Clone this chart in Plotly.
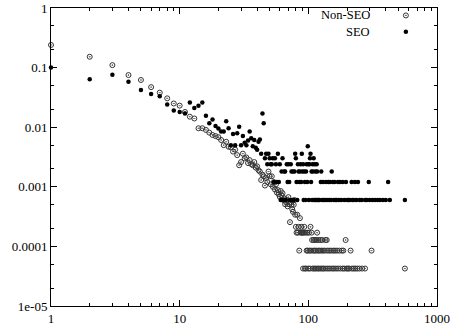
import plotly.graph_objects as go

# ---------------- data ----------------
nonseo_head_x = list(range(1, 80))
nonseo_head_y = [
    0.24, 0.152, 0.11, 0.075, 0.062, 0.047, 0.038, 0.0305, 0.025, 0.023,
    0.018, 0.015, 0.014, 0.0096, 0.0096, 0.009, 0.0081, 0.0074, 0.0071, 0.0068,
    0.0061, 0.0050, 0.0057, 0.0047, 0.0046, 0.0039, 0.0042, 0.0034, 0.0023, 0.0026,
    0.0036, 0.0030, 0.0031, 0.0025, 0.0028, 0.0024, 0.0023, 0.0026, 0.0021, 0.0022,
    0.0019, 0.0018, 0.0013, 0.0016, 0.0015, 0.00105, 0.0014, 0.0012, 0.0018, 0.0015,
    0.0011, 0.0015, 0.0010, 0.0012, 0.0009, 0.0011, 0.0008, 0.00088, 0.00075, 0.00068,
    0.00085, 0.00072, 0.00078, 0.0006, 0.00064, 0.00051, 0.00056, 0.0006, 0.00047, 0.00067,
    0.00051, 0.000255, 0.00055, 0.0005, 0.00042, 0.00038, 0.0005, 0.0006, 0.00034,
]
nonseo_tail_x = [
    80, 81, 82, 83, 84, 85, 86, 87, 88, 89, 90, 91, 92, 93, 94, 95, 96, 97, 98, 99,
    100, 101, 102, 103, 104, 105, 106, 107, 108, 109, 110, 111, 112, 113, 114, 115,
    116, 117, 118, 119, 120, 121, 122, 124, 125, 126, 128, 129, 130, 132, 134, 136,
    137, 139, 140, 142, 145, 147, 150, 153, 156, 158, 161, 164, 167, 170, 174, 177,
    182, 185, 187, 190, 195, 198, 203, 208, 213, 218, 225, 232, 240, 250, 262, 276,
    310, 563,
]
nonseo_tail_y = [
    2.13e-4, 1.7e-4, 3.4e-4, 1.7e-4, 2.13e-4, 8.5e-5, 2.98e-4, 1.7e-4, 2.13e-4, 1.7e-4,
    1.7e-4, 4.25e-5, 1.7e-4, 2.13e-4, 4.25e-5, 1.7e-4, 4.25e-5, 8.5e-5, 1.7e-4, 8.5e-5,
    4.25e-5, 1.7e-4, 8.5e-5, 4.25e-5, 2.13e-4, 8.5e-5, 1.7e-4, 1.28e-4, 4.25e-5, 8.5e-5,
    1.28e-4, 4.25e-5, 8.5e-5, 1.28e-4, 4.25e-5, 8.5e-5,
    1.28e-4, 1.7e-4, 4.25e-5, 8.5e-5, 1.28e-4, 4.25e-5, 8.5e-5, 1.28e-4, 4.25e-5, 8.5e-5,
    1.28e-4, 4.25e-5, 8.5e-5, 4.25e-5, 8.5e-5, 1.28e-4,
    4.25e-5, 1.28e-4, 8.5e-5, 4.25e-5, 8.5e-5, 4.25e-5, 8.5e-5, 4.25e-5, 8.5e-5, 4.25e-5,
    8.5e-5, 4.25e-5, 8.5e-5, 4.25e-5, 8.5e-5, 4.25e-5,
    8.5e-5, 4.25e-5, 8.5e-5, 4.25e-5, 1.28e-4, 4.25e-5, 4.25e-5, 4.25e-5, 8.5e-5, 4.25e-5,
    4.25e-5, 4.25e-5, 4.25e-5, 4.25e-5, 4.25e-5, 4.25e-5,
    8.5e-5, 4.25e-5,
]

seo_head_x = list(range(1, 52))
seo_head_y = [
    0.1, 0.064, 0.076, 0.058, 0.042, 0.036, 0.033, 0.024, 0.019, 0.018,
    0.017, 0.026, 0.021, 0.023, 0.026, 0.0155, 0.0117, 0.0135, 0.0105, 0.0095,
    0.0085, 0.0085, 0.0126, 0.0096, 0.005, 0.0077, 0.005, 0.0079, 0.0102, 0.005,
    0.0071, 0.0055, 0.005, 0.006, 0.0085, 0.0065, 0.0048, 0.0061, 0.0045, 0.0042,
    0.0057, 0.0062, 0.0036, 0.017, 0.0117, 0.003, 0.0036, 0.0024, 0.0036, 0.003,
    0.0024,
]
seo_tail_x = [
    52, 53, 54, 55, 56, 57, 58, 59, 60, 61, 62, 63, 64, 65, 66, 67, 68, 69, 70, 71,
    72, 73, 74, 75, 76, 77, 78, 79, 80, 81, 82, 83, 84, 85, 86, 87, 88, 89, 90, 91,
    92, 93, 94, 95, 96, 97, 98, 99, 100, 101, 102, 103, 104, 105, 106, 107, 108, 109,
    110, 111, 112, 113, 114, 115, 116, 117, 118, 120, 122, 125, 126, 128, 130, 132,
    135, 137, 140, 143, 145, 147, 150, 152, 155, 158, 160, 163, 166, 170, 173, 176,
    180, 185, 190, 196, 200, 205, 210, 217, 220, 226, 230, 236, 243, 250, 260, 276,
    285, 295, 300, 315, 330, 345, 360, 380, 400, 417, 430, 563,
]
seo_tail_y = [
    0.0024, 0.003, 0.0012, 0.003, 0.0024, 0.0012, 0.0036, 0.0012, 0.0024, 0.0006,
    0.0018, 0.003, 0.0006, 0.0018, 0.0018, 0.0006, 0.0024, 0.0012, 0.0024, 0.0012,
    0.0006, 0.0024, 0.0018, 0.0006, 0.0018, 0.0006, 0.0018, 0.0036, 0.003, 0.0012,
    0.0006, 0.0024, 0.0018, 0.0012, 0.0018, 0.0024, 0.0012, 0.0036, 0.0018, 0.0024,
    0.0006, 0.0018, 0.0012, 0.0006, 0.0018, 0.0024, 0.0012, 0.0048, 0.0024, 0.0006,
    0.0024, 0.003, 0.0036, 0.0012, 0.0018, 0.0006, 0.0024, 0.0018,
    0.003, 0.0006, 0.0024, 0.0006, 0.0018, 0.0006, 0.0024, 0.0018, 0.0006, 0.0006,
    0.0006, 0.0012, 0.0018, 0.0006, 0.0012, 0.0006,
    0.0006, 0.0012, 0.0006, 0.0012, 0.0006, 0.0012, 0.0006, 0.0018, 0.0012, 0.0006,
    0.0012, 0.0006, 0.0006, 0.0012, 0.0006, 0.0012,
    0.0006, 0.0012, 0.0006, 0.0012, 0.0006, 0.0006, 0.0006, 0.0012, 0.0006, 0.0006,
    0.0012, 0.0006, 0.0012, 0.0006, 0.0006, 0.0006,
    0.0006, 0.0012, 0.0006, 0.0006, 0.0006, 0.0006, 0.0006, 0.0006, 0.0006, 0.0012,
    0.0006, 0.0006,
]

series_names = ["Non-SEO", "SEO"]
x_tick_vals = [1, 10, 100, 1000]
x_tick_text = ["1", "10", "100", "1000"]
y_tick_vals = [1e-5, 1e-4, 1e-3, 1e-2, 1e-1, 1]
y_tick_text = ["1e-05", "0.0001", "0.001", "0.01", "0.1", "1"]

# legend key anchor positions (in data units on the log axes)
legend_key_x = [573, 573]
legend_key_y = [0.75, 0.40]
legend_text_y = [0.975, 0.918]   # paper fraction

# ---------------- styles ----------------
FONT = "Liberation Serif"
nonseo_marker = dict(symbol="circle-open-dot", size=5, color="#333333", line=dict(width=1, color="#333333"))
seo_marker = dict(symbol="circle", size=4.5, color="black", line=dict(width=0))

fig = go.Figure()
fig.add_trace(go.Scatter(x=nonseo_head_x + nonseo_tail_x, y=nonseo_head_y + nonseo_tail_y,
                         mode="markers", marker=nonseo_marker, name=series_names[0],
                         showlegend=False, cliponaxis=False))
fig.add_trace(go.Scatter(x=seo_head_x + seo_tail_x, y=seo_head_y + seo_tail_y,
                         mode="markers", marker=seo_marker, name=series_names[1],
                         showlegend=False, cliponaxis=False))

# legend keys (gnuplot style: text then symbol)
fig.add_trace(go.Scatter(x=[legend_key_x[0]], y=[legend_key_y[0]],
                         mode="markers", marker=nonseo_marker, showlegend=False, hoverinfo="skip"))
fig.add_trace(go.Scatter(x=[legend_key_x[1]], y=[legend_key_y[1]],
                         mode="markers", marker=seo_marker, showlegend=False, hoverinfo="skip"))
for name, ty in zip(series_names, legend_text_y):
    fig.add_annotation(x=0.832, y=ty, xref="paper", yref="paper", text=name,
                       showarrow=False, xanchor="right", yanchor="middle",
                       font=dict(family=FONT, size=12.5, color="black"))

axis_common = dict(type="log", showline=True, linecolor="black", linewidth=1, mirror="allticks",
                   ticks="inside", ticklen=6, tickwidth=1, tickcolor="black",
                   showgrid=False, zeroline=False, automargin=False,
                   tickfont=dict(family=FONT, size=13, color="black"))

fig.update_layout(
    width=452, height=332,
    margin=dict(l=51, r=15, t=8, b=26, autoexpand=False),
    paper_bgcolor="white", plot_bgcolor="white",
    xaxis=dict(range=[0, 3], tickvals=x_tick_vals, ticktext=x_tick_text,
               minor=dict(ticks="inside", ticklen=3, tickcolor="black", dtick="D1", showgrid=False),
               **axis_common),
    yaxis=dict(range=[-5, 0], tickvals=y_tick_vals, ticktext=y_tick_text,
               minor=dict(ticks="inside", ticklen=3, tickcolor="black", dtick="D2", showgrid=False),
               **axis_common),
    showlegend=False,
)

fig.write_html("out.html")
